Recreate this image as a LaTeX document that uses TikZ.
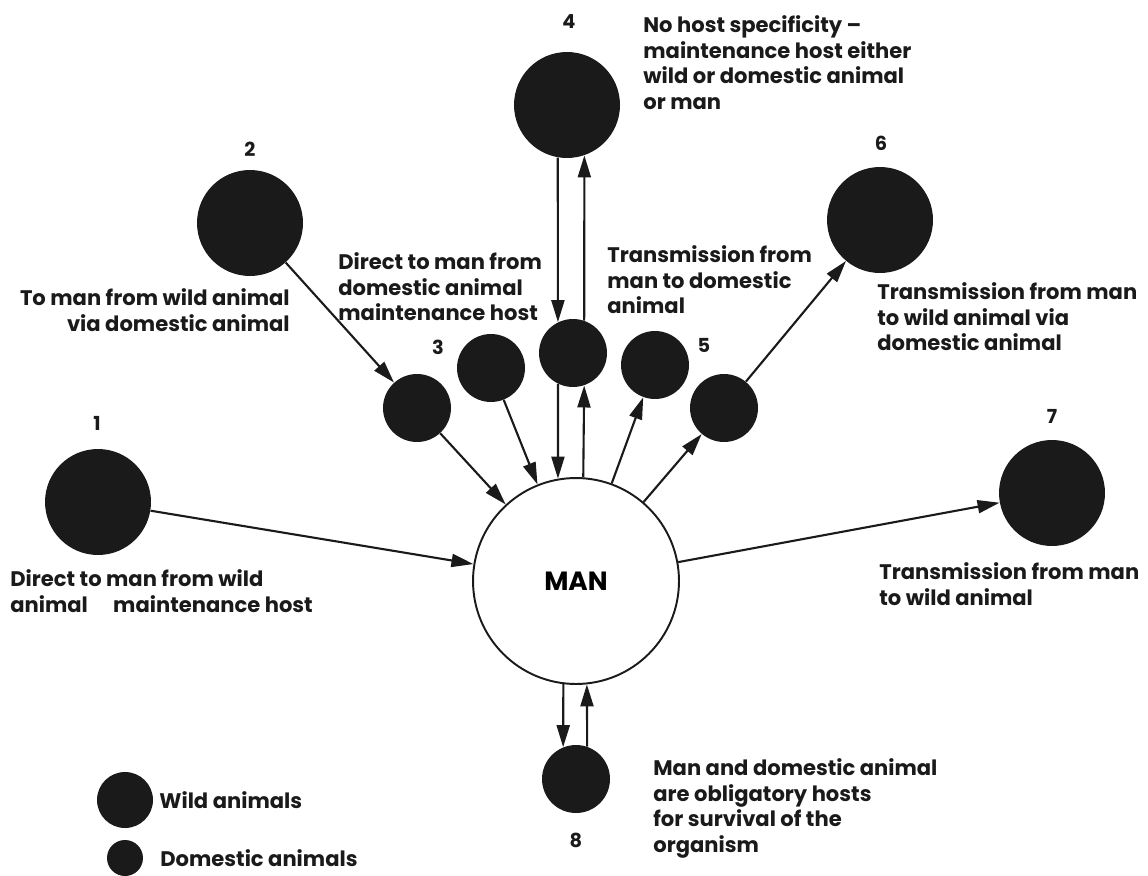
\documentclass[tikz,border=0pt]{standalone}
\usepackage{fontspec}
\setmainfont{Poppins}
\usetikzlibrary{arrows.meta}
\definecolor{ink}{HTML}{1A1A1A}

\begin{document}
\begin{tikzpicture}[x=0.02cm, y=-0.02cm,
  wild/.style={circle, fill=ink, minimum size=2.12cm, inner sep=0pt},
  dom/.style={circle, fill=ink, minimum size=1.36cm, inner sep=0pt},
  man/.style={circle, draw=ink, line width=1.1pt, minimum size=4.12cm, inner sep=0pt, font=\fontsize{15}{18}\selectfont\bfseries},
  num/.style={font=\fontsize{11}{13}\selectfont\bfseries, text=ink, inner sep=0pt},
  lab/.style={font=\fontsize{12}{14.7}\selectfont\bfseries, text=ink, inner sep=0pt, align=left, anchor=north west},
  key/.style={font=\fontsize{12}{14}\selectfont\bfseries, text=ink, inner sep=0pt, anchor=west},
  arr/.style={-{Triangle[length=0.44cm,width=0.26cm]}, draw=ink, line width=1.2pt},
]
\useasboundingbox (0,0) rectangle (1148,875);
\node[man] (man) at (576,581) {MAN};
\foreach \nm/\x/\y in {w1/98/502, w2/250/223, w4/567/105, w6/880/220, w7/1052/493}
  \node[wild] (\nm) at (\x,\y) {};
\foreach \nm/\x/\y in {d3/417/408, db/491/368, dc/573/353, dd/655/365, d5/724/408, d8/576/779}
  \node[dom] (\nm) at (\x,\y) {};
\foreach \t/\x/\y in {1/97/423, 2/250/149, 3/438/347, 4/569/22, 5/704/345, 6/881/143, 7/1052/416, 8/576/840}
  \node[num] (n\t) at (\x,\y) {\t};

\draw[arr] (w1) -- (man);
\draw[arr] (w2) -- (d3);
\draw[arr] (d3) -- (man);
\draw[arr] (db) -- (man);
\draw[arr] (w4.260) -- (dc.116);
\draw[arr] (dc.-116) -- (man.100);
\draw[arr] (man.86) -- (dc.-71);
\draw[arr] (dc.71) -- (w4.-71);
\draw[arr] (man) -- (dd);
\draw[arr] (man) -- (d5);
\draw[arr] (d5) -- (w6);
\draw[arr] (man) -- (w7);
\draw[arr] (man.-97) -- (d8.112);
\draw[arr] (d8.71) -- (man.-84);

\node[lab] (t1) at (10,569) {Direct to man from wild\\animal\hspace{1.2em}maintenance host};
\node[lab, anchor=north east, align=right] (t2) at (290,288) {To man from wild animal\\via domestic animal};
\node[lab] (t3) at (338,252) {Direct to man from\\domestic animal\\maintenance host};
\node[lab] (t4) at (643,15) {No host specificity --\\maintenance host either\\wild or domestic animal\\or man};
\node[lab] (t5) at (607,245) {Transmission from\\man to domestic\\animal};
\node[lab] (t6) at (877,282) {Transmission from man\\to wild animal via\\domestic animal};
\node[lab] (t7) at (879,562) {Transmission from man\\to wild animal};
\node[lab] (t8) at (653,758) {Man and domestic animal\\are obligatory hosts\\for survival of the\\organism};

\node[circle, fill=ink, minimum size=1.12cm, inner sep=0pt] (kw) at (125,800) {};
\node[circle, fill=ink, minimum size=0.72cm, inner sep=0pt] (kd) at (125,858) {};
\node[key] (kwt) at (159,800) {Wild animals};
\node[key] (kdt) at (160,858) {Domestic animals};
\end{tikzpicture}
\end{document}
